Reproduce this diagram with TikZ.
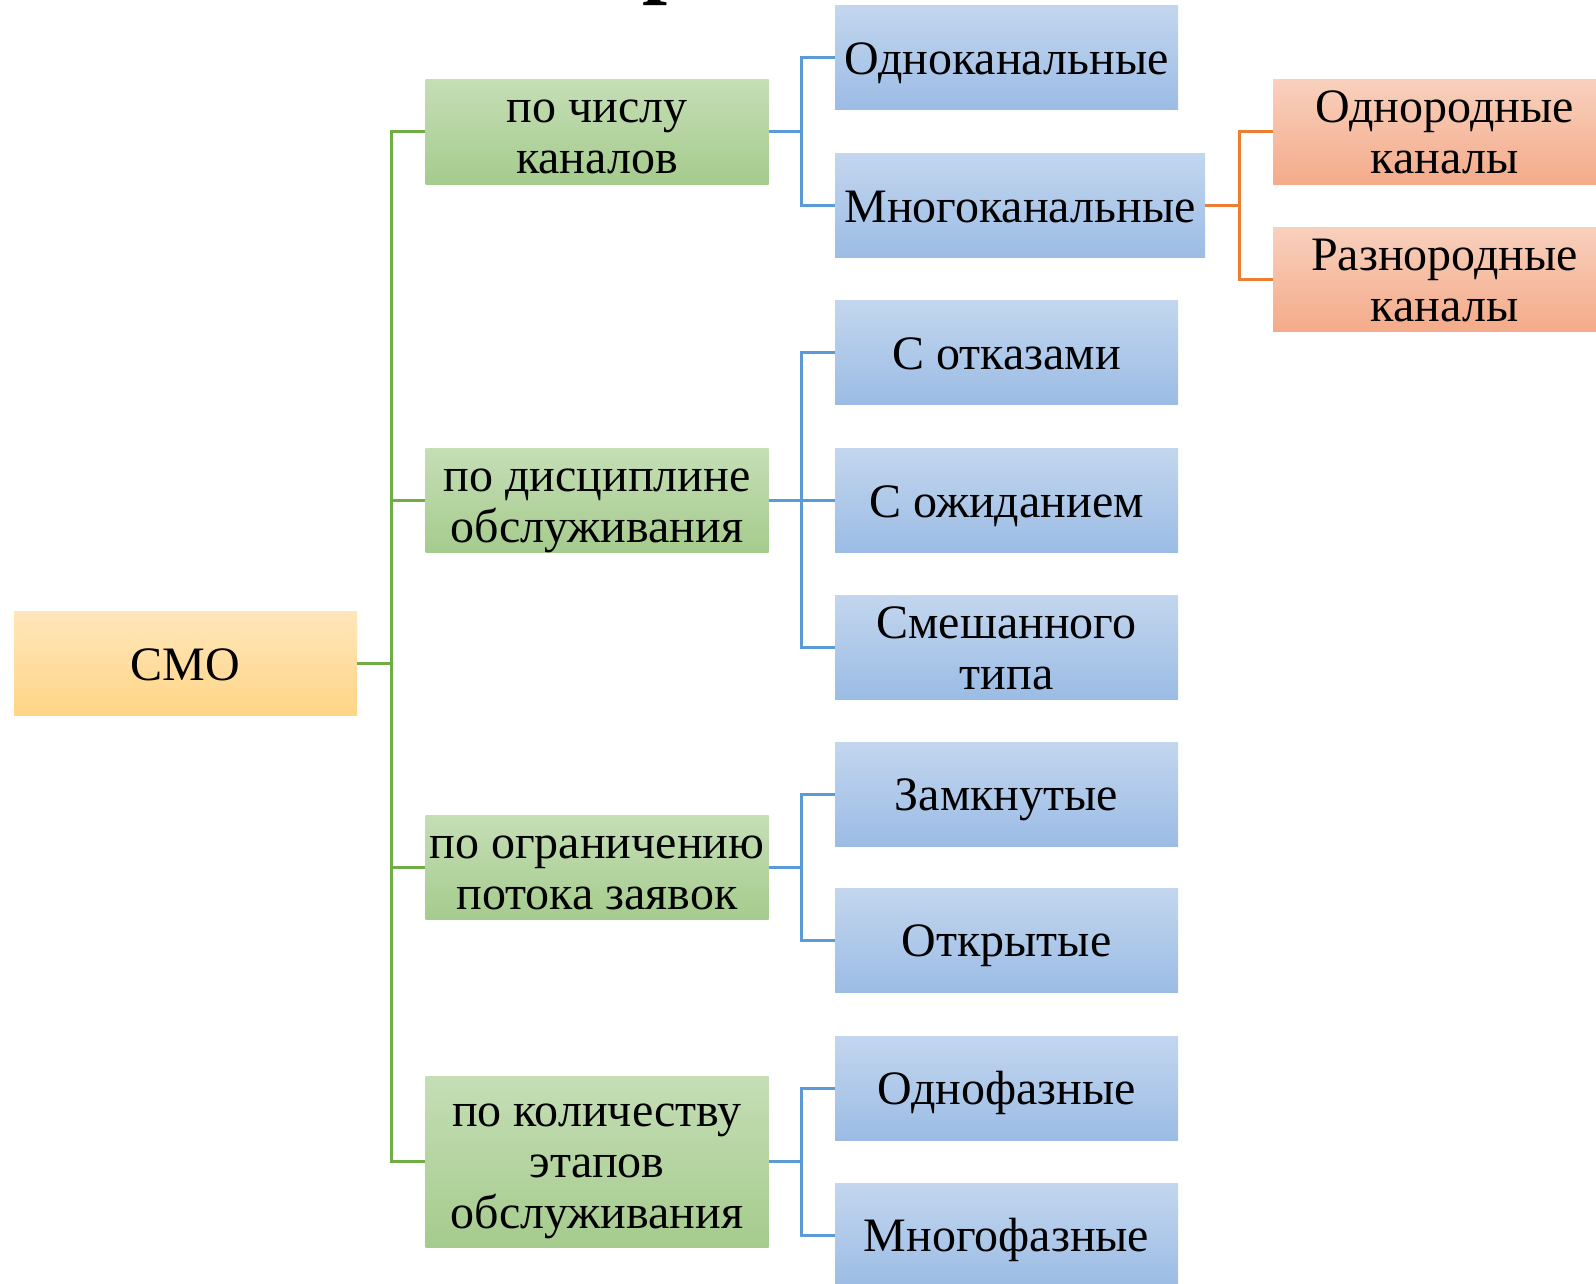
\documentclass[tikz,border=0pt]{standalone}
\usepackage{fontspec}
\setmainfont{Liberation Serif}
\definecolor{smoT}{HTML}{FFE6BA}
\definecolor{smoB}{HTML}{FFD586}
\definecolor{gT}{HTML}{C5DEB6}
\definecolor{gB}{HTML}{A5CB8D}
\definecolor{bT}{HTML}{C3D6EE}
\definecolor{bB}{HTML}{9BBCE5}
\definecolor{oT}{HTML}{F8D0BD}
\definecolor{oB}{HTML}{F4AB8A}
\definecolor{gL}{HTML}{70AD47}
\definecolor{bL}{HTML}{5B9BD5}
\definecolor{oL}{HTML}{ED7D31}
\newcommand\sx{\rule[-5pt]{0pt}{26.5pt}}
\setlength{\lineskiplimit}{-100pt}
\begin{document}
\begin{tikzpicture}[x=0.5pt,y=-0.5pt,
  box/.style={rectangle, inner sep=0pt, align=center,
    font=\fontsize{24}{25.5}\selectfont,
    minimum width=171.5pt, minimum height=52pt},
  smobox/.style={box, top color=smoT, bottom color=smoB},
  gbox/.style={box, top color=gT, bottom color=gB},
  bbox/.style={box, top color=bT, bottom color=bB},
  obox/.style={box, top color=oT, bottom color=oB},
  gline/.style={draw=gL, line width=1.5pt},
  bline/.style={draw=bL, line width=1.5pt},
  oline/.style={draw=oL, line width=1.5pt}]
\clip (0,0) rectangle (1596,1284);
% title fragment (cut off by the top edge)
\node[anchor=base west, inner sep=0pt, font=\fontsize{45}{45}\selectfont\bfseries] (ttl) at (642,-13) {р};
% nodes
\node[smobox] (smo) at (185.5,663.5) {\sx СМО};
\node[gbox] (g1) at (597,132) {\sx по числу\\\sx каналов};
\node[gbox] (g2) at (597,500.5) {\sx по дисциплине\\\sx обслуживания};
\node[gbox] (g3) at (597,867.5) {\sx по ограничению\\\sx потока заявок};
\node[gbox, minimum height=85.5pt] (g4) at (597,1161.5) {\sx по количеству\\\sx этапов\\\sx обслуживания};
\node[bbox] (b1) at (1006.5,58) {\sx Одноканальные};
\node[bbox, minimum width=185pt] (b2) at (1020,205.5) {\sx Многоканальные};
\node[bbox] (b3) at (1006.5,352.5) {\sx С отказами};
\node[bbox] (b4) at (1006.5,500.5) {\sx С ожиданием};
\node[bbox] (b5) at (1006.5,647) {\sx Смешанного\\\sx типа};
\node[bbox] (b6) at (1006.5,794) {\sx Замкнутые};
\node[bbox] (b7) at (1006.5,940.5) {\sx Открытые};
\node[bbox] (b8) at (1006.5,1088) {\sx Однофазные};
\node[bbox] (b9) at (1006.5,1235) {\sx Многофазные};
\node[obox] (o1) at (1444.5,132) {\sx Однородные\\\sx каналы};
\node[obox] (o2) at (1444.5,279) {\sx Разнородные\\\sx каналы};
% trunks
\coordinate (gt) at (391,0);
\coordinate (bt) at (801,0);
\coordinate (ot) at (1239,0);
% connectors
\foreach \g in {g1,g2,g3,g4}
  \draw[gline] (smo.east) -- (smo.east -| gt) |- (\g.west);
\foreach \b in {b1,b2}
  \draw[bline] (g1.east) -- (g1.east -| bt) |- (\b.west);
\foreach \b in {b3,b4,b5}
  \draw[bline] (g2.east) -- (g2.east -| bt) |- (\b.west);
\foreach \b in {b6,b7}
  \draw[bline] (g3.east) -- (g3.east -| bt) |- (\b.west);
\foreach \b in {b8,b9}
  \draw[bline] (g4.east) -- (g4.east -| bt) |- (\b.west);
\foreach \o in {o1,o2}
  \draw[oline] (b2.east) -- (b2.east -| ot) |- (\o.west);
\end{tikzpicture}
\end{document}
